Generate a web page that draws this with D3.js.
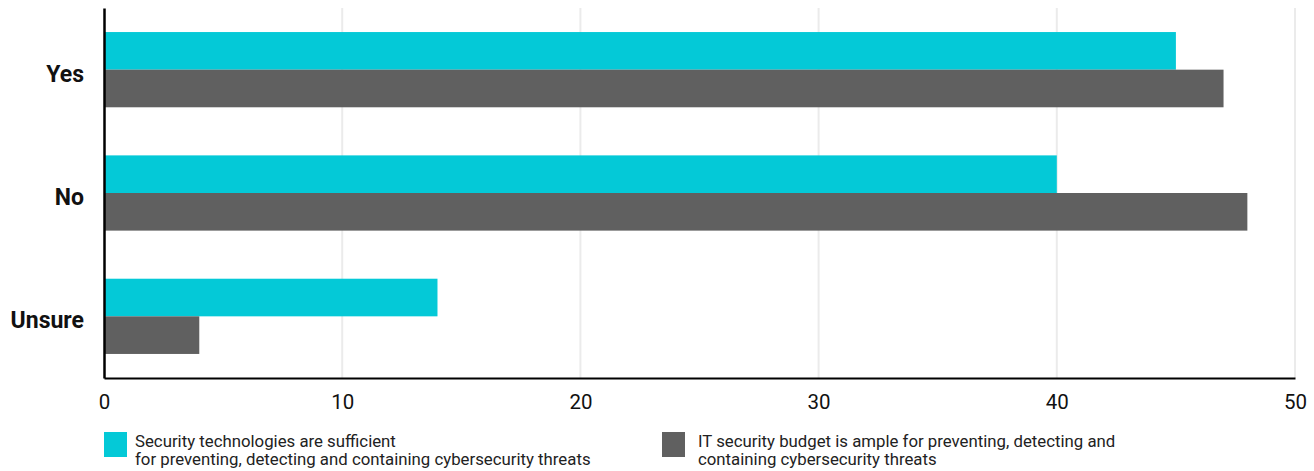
<!DOCTYPE html>
<html>
<head>
<meta charset="utf-8">
<script src="https://cdn.jsdelivr.net/npm/d3@7"></script>
<style>
  html, body { margin: 0; padding: 0; background: #fff; }
  svg { display: block; font-family: Roboto, "Noto Sans", sans-serif; }
</style>
</head>
<body>
<svg id="chart" width="1314" height="471"></svg>
<script>
// Survey answers and the share (%) for each statement
const categories = ["Yes", "No", "Unsure"];
const seriesNames = ["tech", "budget"];
const techValues = [45, 40, 14];
const budgetValues = [47, 48, 4];
const xTicks = [0, 10, 20, 30, 40, 50];
const legendLabels = [
  ["Security technologies are sufficient", "for preventing, detecting and containing cybersecurity threats"],
  ["IT security budget is ample for preventing, detecting and", "containing cybersecurity threats"]
];
const colors = ["#04C9D7", "#606060"];

const rows = categories.map((c, i) => ({ category: c, tech: techValues[i], budget: budgetValues[i] }));

const svg = d3.select("#chart");
const margin = { top: 8, right: 19, bottom: 93, left: 104 };
const width = 1314 - margin.left - margin.right;
const height = 471 - margin.top - margin.bottom;

const g = svg.append("g").attr("transform", `translate(${margin.left},${margin.top})`);

const x = d3.scaleLinear().domain([0, 50]).range([0, width]);
const y = d3.scaleBand().domain(categories).range([0, height]).paddingInner(0.39).paddingOuter(0.195);
const ySub = d3.scaleBand().domain(seriesNames).range([0, y.bandwidth()]);

// vertical gridlines
g.append("g")
  .selectAll("line")
  .data(xTicks.filter(t => t > 0))
  .join("line")
  .attr("x1", d => x(d)).attr("x2", d => x(d))
  .attr("y1", 0).attr("y2", height)
  .attr("stroke", "#ebebeb")
  .attr("stroke-width", 2);

// bars
const groups = g.append("g")
  .selectAll("g")
  .data(rows)
  .join("g")
  .attr("transform", d => `translate(0,${y(d.category)})`);

groups.selectAll("rect")
  .data(d => seriesNames.map((s, i) => ({ key: s, value: d[s], color: colors[i] })))
  .join("rect")
  .attr("x", x(0))
  .attr("y", d => ySub(d.key))
  .attr("width", d => x(d.value) - x(0))
  .attr("height", ySub.bandwidth())
  .attr("fill", d => d.color);

// x axis
const xAxis = g.append("g")
  .attr("transform", `translate(0,${height})`)
  .call(d3.axisBottom(x).tickValues(xTicks).tickSize(0).tickPadding(16));
xAxis.select(".domain").attr("stroke", "#000").attr("stroke-width", 2);
xAxis.selectAll("text").attr("font-size", 20.5).attr("fill", "#111").style("font-family", "Roboto, sans-serif");

// y axis
const yAxis = g.append("g")
  .call(d3.axisLeft(y).tickSize(0).tickPadding(20));
yAxis.select(".domain").attr("stroke", "#000").attr("stroke-width", 2.5);
yAxis.selectAll("text")
  .attr("font-size", 23)
  .attr("font-weight", "bold")
  .attr("fill", "#111")
  .attr("dy", "0.52em")
  .style("font-family", "Roboto, sans-serif");

// legend
const legendX = [104, 662];
const legendTextX = [31, 36];
const legend = svg.append("g")
  .selectAll("g")
  .data(legendLabels)
  .join("g")
  .attr("transform", (d, i) => `translate(${legendX[i]},432)`);

legend.append("rect")
  .attr("width", 23).attr("height", 25)
  .attr("fill", (d, i) => colors[i]);

legend.append("text")
  .attr("font-size", 16.8)
  .attr("fill", "#222")
  .each(function (d, i) {
    d3.select(this).selectAll("tspan")
      .data(d)
      .join("tspan")
      .attr("x", legendTextX[i])
      .attr("y", (t, j) => 14.5 + j * 18.5)
      .text(t => t);
  });
</script>
</body>
</html>
